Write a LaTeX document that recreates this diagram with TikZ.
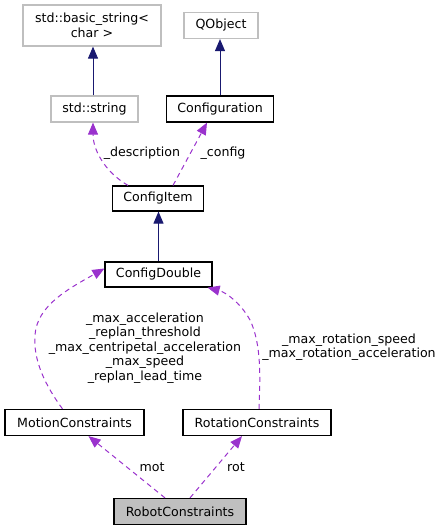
\documentclass[tikz,border=0pt]{standalone}
\usepackage{fontspec}
\setmainfont{DejaVu Sans}
\usetikzlibrary{arrows.meta}
\definecolor{navyc}{HTML}{191970}
\definecolor{purplec}{HTML}{9A32CD}
\definecolor{grayb}{HTML}{BFBFBF}
\tikzset{
  cls/.style={draw=black, line width=1.2pt, fill=white, inner sep=0pt, align=center},
  ext/.style={draw=grayb, line width=1.2pt, fill=white, inner sep=0pt, align=center},
  cur/.style={draw=black, line width=1.2pt, fill=grayb, inner sep=0pt, align=center},
  inherit/.style={draw=navyc, line width=1pt, -{Triangle[length=12pt,width=10pt]}, navyc},
  usage/.style={draw=purplec, line width=1pt, dash pattern=on 5pt off 4pt, -{Triangle[length=12pt,width=10pt]}, purplec},
  lbl/.style={inner sep=0pt, align=center, text=black}
}
\begin{document}
\begin{tikzpicture}[x=1pt,y=-1pt,font=\fontsize{12.6}{14.5}\selectfont]
\useasboundingbox (0,0) rectangle (444,531);
\node[ext, minimum width=138pt, minimum height=41pt] (basicstring) at (92,25.5) {std::basic\_string<\\char >};
\node[ext, minimum width=74pt, minimum height=26pt] (qobject) at (221,25.5) {QObject};
\node[ext, minimum width=87pt, minimum height=26pt] (stdstring) at (94.5,109) {std::string};
\node[cls, minimum width=107pt, minimum height=26pt] (configuration) at (220,109) {Configuration};
\node[cls, minimum width=91pt, minimum height=25pt] (configitem) at (158,198.5) {ConfigItem};
\node[cls, minimum width=107pt, minimum height=25pt] (configdouble) at (158.5,274.5) {ConfigDouble};
\node[cls, minimum width=139pt, minimum height=26pt] (motion) at (74.5,422.5) {MotionConstraints};
\node[cls, minimum width=148pt, minimum height=26pt] (rotation) at (257,422.5) {RotationConstraints};
\node[cur, minimum width=132pt, minimum height=26pt] (robot) at (180,511.5) {RobotConstraints};

% inheritance
\draw[inherit] ([xshift=-1.5pt]stdstring.north) -- ([xshift=1pt]basicstring.south);
\draw[inherit] ([xshift=0pt]configuration.north) -- ([xshift=-1pt]qobject.south);
\draw[inherit] (configdouble.north) -- ([xshift=0.5pt]configitem.south);

% usage
\draw[usage] ([xshift=15pt]configitem.north) -- ([xshift=-13pt]configuration.south);
\node[lbl] (lconfig) at (223,153) {\_config};
\draw[usage] ([xshift=-30pt]configitem.north) .. controls (105,172) and (93,150) .. ([xshift=-1.5pt]stdstring.south);
\node[lbl] (ldesc) at (142,153) {\_description};

\draw[usage] ([xshift=-12pt]motion.north) .. controls (45,385) and (33,360) .. (35,335) .. controls (37,305) and (70,288) .. ([yshift=6pt]configdouble.west);
\node[lbl] (lmotion) at (145,348) {\_max\_acceleration\\\_replan\_threshold\\\_max\_centripetal\_acceleration\\\_max\_speed\\\_replan\_lead\_time};

\draw[usage] ([xshift=2pt]rotation.north) .. controls (260,380) and (262,345) .. (250,320) .. controls (240,302) and (225,292) .. ([xshift=-5pt]configdouble.south east);
\node[lbl] (lrot) at (349,347) {\_max\_rotation\_speed\\\_max\_rotation\_acceleration};

\draw[usage] ([xshift=-15pt]robot.north) -- ([xshift=14pt]motion.south);
\node[lbl] (lmot) at (152,467) {mot};
\draw[usage] ([xshift=10pt]robot.north) -- ([xshift=-15pt]rotation.south);
\node[lbl] (lrotn) at (236,467) {rot};
\end{tikzpicture}
\end{document}
